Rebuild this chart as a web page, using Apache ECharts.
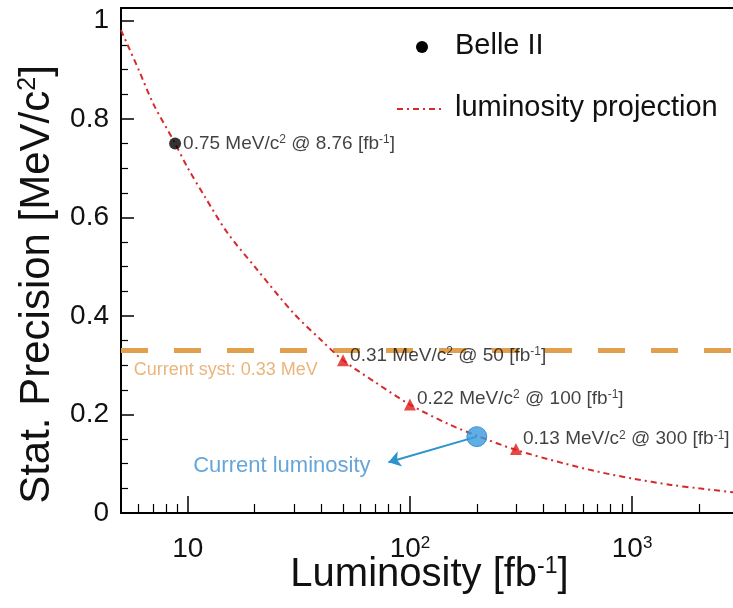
<!DOCTYPE html>
<html>
<head>
<meta charset="utf-8">
<script src="https://cdn.jsdelivr.net/npm/echarts@6/dist/echarts.min.js"></script>
<style>
  html, body { margin: 0; padding: 0; background: #fff; }
  #main { width: 733px; height: 608px; }
</style>
</head>
<body>
<div id="main"></div>
<script>
// projection curve
const curveLumi = [5, 6, 7, 8.76, 10, 12, 15, 20, 30, 40, 50, 70, 100, 150, 200, 300, 500, 700, 1000, 1500, 2000, 3000];
const curvePrec = [0.98, 0.9, 0.83, 0.75, 0.70, 0.64, 0.57, 0.50, 0.405, 0.35, 0.31, 0.265, 0.22, 0.18, 0.157, 0.128, 0.10, 0.084, 0.07, 0.057, 0.05, 0.041];

// measured point
const belleLumi = [8.76];
const bellePrec = [0.75];

// projected points
const projLumi = [50, 100, 300];
const projPrec = [0.31, 0.22, 0.13];
const projOffsetY = [-5, -6, -10];

// current luminosity marker + arrow end
const currentLumi = 200;
const currentPrec = 0.155;
const arrowEnd = [80, 0.103];

const systValue = 0.33;

const majorTicks = [10, 100, 1000];
const minorTicks = [6, 7, 8, 9, 20, 30, 40, 50, 60, 70, 80, 90, 200, 300, 400, 500, 600, 700, 800, 900, 2000];

const FONT = 'Liberation Sans';
const xMin = 5, xMax = 3000;

const pointLabel = (p, l) => `${p.toFixed(2)} MeV/c{sup|2} @ ${l} [fb{sup|-1}]`;
const labelRich = { sup: { fontSize: 12, verticalAlign: 'top', fontFamily: FONT, color: '#111' } };

const chart = echarts.init(document.getElementById('main'));

const option = {
  animation: false,
  grid: { left: 121, right: -5, top: 8, bottom: 95, containLabel: false, outerBoundsMode: 'none' },
  xAxis: [
    {
      type: 'log', min: xMin, max: xMax,
      name: 'Luminosity [fb{sup|-1}]',
      nameLocation: 'middle', nameGap: 42, nameMoveOverlap: false,
      nameTextStyle: {
        fontFamily: FONT, fontSize: 40, color: '#111',
        rich: { sup: { fontSize: 23, verticalAlign: 'top', fontFamily: FONT, color: '#111' } }
      },
      axisLine: { lineStyle: { color: '#000', width: 2 } },
      axisTick: { inside: true, length: 17, customValues: majorTicks, lineStyle: { color: '#000', width: 1.5 } },
      axisLabel: {
        customValues: majorTicks, margin: 22, fontFamily: FONT, fontSize: 28, color: '#111',
        formatter: (v) => {
          const e = Math.round(Math.log10(v));
          return e === 1 ? '10' : '10{sup|' + e + '}';
        },
        rich: { sup: { fontSize: 17, verticalAlign: 'top', fontFamily: FONT, color: '#111', padding: [0, 0, 8, 0] } }
      },
      splitLine: { show: false }
    },
    {
      type: 'log', min: xMin, max: xMax, position: 'bottom',
      axisLine: { show: false },
      axisTick: { inside: true, length: 9, customValues: minorTicks, lineStyle: { color: '#000', width: 1.2 } },
      axisLabel: { show: false },
      splitLine: { show: false }
    },
    {
      type: 'log', min: xMin, max: xMax, position: 'top',
      axisLine: { lineStyle: { color: '#000', width: 2 } },
      axisTick: { show: false },
      axisLabel: { show: false },
      splitLine: { show: false }
    }
  ],
  yAxis: {
    type: 'value', min: 0, max: 1.025, interval: 0.2,
    name: 'Stat. Precision [MeV/c{sup|2}]',
    nameLocation: 'middle', nameGap: 63, nameMoveOverlap: false,
    nameTextStyle: {
      fontFamily: FONT, fontSize: 42, color: '#111', padding: [0, 48, 0, 0],
      rich: { sup: { fontSize: 25, verticalAlign: 'top', fontFamily: FONT, color: '#111' } }
    },
    axisLine: { show: true, lineStyle: { color: '#000', width: 2 } },
    axisTick: { inside: true, length: 13, lineStyle: { color: '#000', width: 1.5 } },
    minorTick: { show: true, splitNumber: 4, length: 7, lineStyle: { color: '#000', width: 1.2 } },
    axisLabel: {
      margin: 12, fontFamily: FONT, fontSize: 28, color: '#111',
      formatter: (v) => (v > 1.01 ? '' : String(Math.round(v * 10) / 10))
    },
    splitLine: { show: false }
  },
  series: [
    {
      name: 'luminosity projection',
      type: 'line', smooth: 0.3, showSymbol: false, z: 2,
      data: curveLumi.map((l, i) => [l, curvePrec[i]]),
      lineStyle: { color: '#d52a2a', width: 2, type: [6, 4, 2, 4] },
      markLine: {
        silent: true, symbol: 'none', z: 1,
        label: { show: false },
        lineStyle: { color: '#e2a04e', width: 5, type: [27, 26], opacity: 1 },
        data: [{ yAxis: systValue }]
      }
    },
    {
      name: 'Belle II', type: 'scatter', z: 5,
      symbolSize: 12, itemStyle: { color: '#000' },
      data: belleLumi.map((l, i) => ({
        value: [l, bellePrec[i]],
        label: {
          show: true, position: 'right', distance: 2,
          formatter: pointLabel(bellePrec[i], l),
          fontFamily: FONT, fontSize: 19, color: '#111', rich: labelRich
        }
      }))
    },
    {
      name: 'projection points', type: 'scatter', z: 5,
      symbol: 'triangle', symbolSize: 12, itemStyle: { color: '#e01a1a' },
      data: projLumi.map((l, i) => ({
        value: [l, projPrec[i]],
        label: {
          show: true, position: 'right', distance: 1, offset: [0, projOffsetY[i]],
          formatter: pointLabel(projPrec[i], l),
          fontFamily: FONT, fontSize: 19, color: '#111', rich: labelRich
        }
      }))
    },
    {
      name: 'current', type: 'scatter', z: 6,
      symbolSize: 20, itemStyle: { color: '#3a9ade', borderColor: '#2a86c8', borderWidth: 1 },
      data: [[currentLumi, currentPrec]],
      markLine: {
        silent: true, symbol: ['none', 'arrow'], symbolSize: 12, z: 4,
        label: { show: false },
        lineStyle: { color: '#2d93cc', width: 2, type: 'solid', opacity: 1 },
        data: [[{ coord: [currentLumi, currentPrec] }, { coord: arrowEnd }]]
      }
    },
    {
      name: 'notes', type: 'scatter', z: 7, symbolSize: 0, silent: true,
      data: [
        {
          value: [5.7, 0.29],
          label: { show: true, position: 'right', distance: 0, formatter: 'Current syst: 0.33 MeV',
            fontFamily: FONT, fontSize: 18, color: '#e3a35a' }
        },
        {
          value: [26.5, 0.095],
          label: { show: true, position: 'inside', formatter: 'Current luminosity',
            fontFamily: FONT, fontSize: 22, color: '#3e8fcf' }
        }
      ]
    }
  ],
  graphic: [
    { type: 'circle', shape: { cx: 422, cy: 47, r: 6 }, style: { fill: '#000' } },
    { type: 'text', x: 455, y: 46,
      style: { text: 'Belle II', font: '29px "Liberation Sans"', fill: '#111', verticalAlign: 'middle' } },
    { type: 'line', shape: { x1: 397, y1: 109, x2: 441, y2: 109 },
      style: { stroke: '#d52a2a', lineWidth: 2, lineDash: [6, 4, 2, 4] } },
    { type: 'text', x: 455, y: 108,
      style: { text: 'luminosity projection', font: '29px "Liberation Sans"', fill: '#111', verticalAlign: 'middle' } }
  ]
};

chart.setOption(option);
</script>
</body>
</html>
